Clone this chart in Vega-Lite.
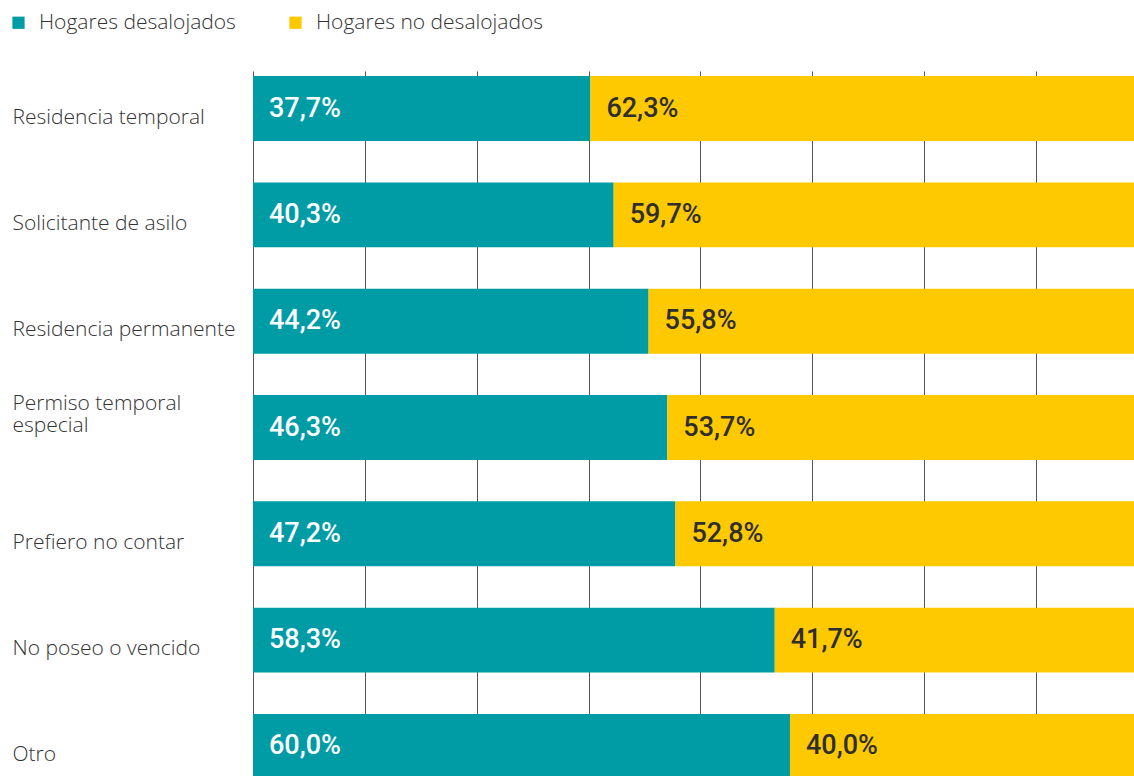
{
  "$schema": "https://vega.github.io/schema/vega-lite/v6.json",
  "width": 881,
  "height": 701,
  "autosize": {"type": "none"},
  "padding": {"left": 253, "top": 75, "right": 0, "bottom": 0},
  "background": "white",
  "config": {
    "view": {"stroke": null},
    "locale": {"number": {"decimal": ",", "thousands": ".", "grouping": [3], "currency": ["", " €"]}}
  },
  "data": {
    "values": [
      {"cat": "Residencia temporal", "grupo": "Hogares desalojados", "v": 0.377},
      {"cat": "Residencia temporal", "grupo": "Hogares no desalojados", "v": 0.623},
      {"cat": "Solicitante de asilo", "grupo": "Hogares desalojados", "v": 0.403},
      {"cat": "Solicitante de asilo", "grupo": "Hogares no desalojados", "v": 0.597},
      {"cat": "Residencia permanente", "grupo": "Hogares desalojados", "v": 0.442},
      {"cat": "Residencia permanente", "grupo": "Hogares no desalojados", "v": 0.558},
      {"cat": "Permiso temporal especial", "grupo": "Hogares desalojados", "v": 0.463},
      {"cat": "Permiso temporal especial", "grupo": "Hogares no desalojados", "v": 0.537},
      {"cat": "Prefiero no contar", "grupo": "Hogares desalojados", "v": 0.472},
      {"cat": "Prefiero no contar", "grupo": "Hogares no desalojados", "v": 0.528},
      {"cat": "No poseo o vencido", "grupo": "Hogares desalojados", "v": 0.583},
      {"cat": "No poseo o vencido", "grupo": "Hogares no desalojados", "v": 0.417},
      {"cat": "Otro", "grupo": "Hogares desalojados", "v": 0.600},
      {"cat": "Otro", "grupo": "Hogares no desalojados", "v": 0.400}
    ]
  },
  "encoding": {
    "y": {
      "field": "cat",
      "type": "nominal",
      "sort": null,
      "scale": {"range": [0, 705], "paddingInner": 0.389, "paddingOuter": 0.01},
      "axis": {
        "title": null,
        "domain": false,
        "ticks": false,
        "tickSize": 0,
        "labelAlign": "left",
        "labelBaseline": "middle",
        "labelPadding": 241,
        "labelLimit": 400,
        "labelFont": "Open Sans",
        "labelFontSize": 21,
        "labelFontWeight": 300,
        "labelColor": "#333333",
        "labelLineHeight": 22,
        "labelExpr": "datum.label == 'Permiso temporal especial' ? ['Permiso temporal', 'especial'] : datum.label",
        "labelOffset": {"condition": {"test": "datum.label == 'Permiso temporal especial'", "value": -24}, "value": 9}
      }
    }
  },
  "layer": [
    {
      "mark": {"type": "bar", "clip": true},
      "encoding": {
        "x": {
          "field": "v",
          "type": "quantitative",
          "stack": "zero",
          "scale": {"domain": [0, 0.9844], "nice": false, "zero": true},
          "axis": {
            "title": null,
            "values": [0, 0.125, 0.25, 0.375, 0.5, 0.625, 0.75, 0.875],
            "grid": true,
            "gridColor": "#555555",
            "gridWidth": 1,
            "labels": false,
            "ticks": false,
            "domain": false
          }
        },
        "color": {
          "field": "grupo",
          "type": "nominal",
          "scale": {"domain": ["Hogares desalojados", "Hogares no desalojados"], "range": ["#009CA6", "#FFC900"]},
          "legend": {
            "orient": "none",
            "legendX": -245,
            "legendY": -63,
            "direction": "horizontal",
            "title": null,
            "symbolType": "square",
            "symbolSize": 150,
            "symbolStrokeWidth": 0,
            "labelFont": "Open Sans",
            "labelFontSize": 21,
            "labelFontWeight": 300,
            "labelColor": "#333333",
            "labelOffset": 10,
            "columnPadding": 49,
            "labelLimit": 400
          }
        }
      }
    },
    {
      "transform": [
        {"stack": "v", "groupby": ["cat"], "sort": [{"field": "grupo", "order": "ascending"}], "as": ["x0", "x1"]}
      ],
      "mark": {"type": "text", "align": "left", "baseline": "middle", "dx": 16, "font": "Roboto", "fontSize": 27, "fontWeight": 500},
      "encoding": {
        "x": {"field": "x0", "type": "quantitative"},
        "text": {"field": "v", "type": "quantitative", "format": ".1%"},
        "color": {"condition": {"test": "datum.grupo === 'Hogares desalojados'", "value": "#ffffff"}, "value": "#2e2e2e"}
      }
    }
  ]
}
